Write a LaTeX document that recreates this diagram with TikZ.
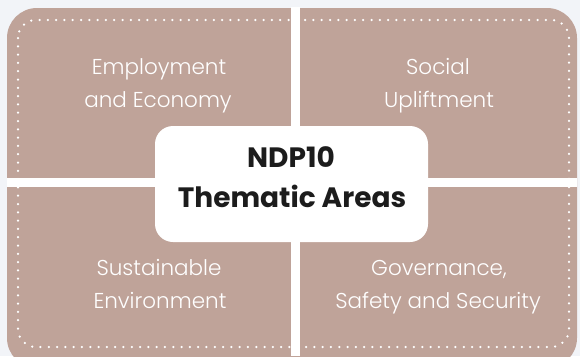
\documentclass[tikz,border=0pt]{standalone}
\usepackage{fontspec}
\setmainfont{Poppins}
\newfontfamily\lightf{Poppins Light}
\definecolor{bgc}{RGB}{242,244,248}
\definecolor{tanc}{RGB}{191,163,153}
\definecolor{txtc}{RGB}{28,28,28}
\tikzset{
  qtext/.style={anchor=base, text=white, font=\lightf\fontsize{21.5}{24}\selectfont, inner sep=0pt},
  ctext/.style={anchor=base, text=txtc, font=\fontsize{28}{30}\selectfont\bfseries, inner sep=0pt},
  dots/.style={draw=white, line width=2.5pt, line cap=round, dash pattern=on 0pt off 8.3pt},
  gapc/.style={fill=white}
}
\begin{document}
\begin{tikzpicture}[x=1pt,y=-1pt]
\useasboundingbox (0,0) rectangle (580,356);
\fill[bgc] (0,0) rectangle (580,356);
\fill[tanc, rounded corners=30pt] (7,8) rectangle (577,368);
\draw[dots, rounded corners=18pt] (18,20) rectangle (569,347);
\fill[gapc] (291,7) rectangle (300,356);
\fill[gapc] (7,178) rectangle (577,187);
\fill[white, rounded corners=18pt] (155,126) rectangle (428,242);
\node[qtext] (tl1) at (159,74) {Employment};
\node[qtext] (tl2) at (158,107) {and Economy};
\node[qtext] (tr1) at (438,74) {Social};
\node[qtext] (tr2) at (439,107) {Upliftment};
\node[qtext] (bl1) at (159,275) {Sustainable};
\node[qtext] (bl2) at (160,308) {Environment};
\node[qtext] (br1) at (439,275) {Governance,};
\node[qtext] (br2) at (438,308) {Safety and Security};
\node[ctext] (c1) at (291,167) {NDP10};
\node[ctext] (c2) at (292,207) {Thematic Areas};
\end{tikzpicture}
\end{document}
